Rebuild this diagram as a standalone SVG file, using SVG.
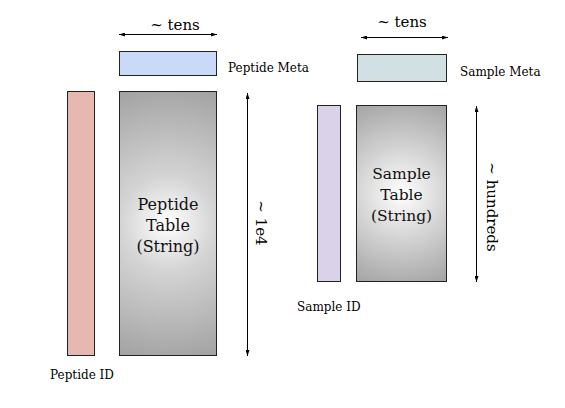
<svg xmlns="http://www.w3.org/2000/svg" width="565" height="408" viewBox="0 0 565 408">
<defs>
<radialGradient id="tblP" gradientUnits="userSpaceOnUse" cx="168" cy="223.5" r="140">
<stop offset="0" stop-color="#ffffff"/>
<stop offset="0.34" stop-color="#d4d4d4"/>
<stop offset="1" stop-color="#a2a2a2"/>
</radialGradient>
<radialGradient id="tblS" gradientUnits="userSpaceOnUse" cx="401.5" cy="193.5" r="100">
<stop offset="0" stop-color="#ffffff"/>
<stop offset="0.45" stop-color="#d4d4d4"/>
<stop offset="1" stop-color="#a2a2a2"/>
</radialGradient>
<marker id="ah" viewBox="0 0 6 4" refX="6" refY="2" markerWidth="6" markerHeight="4" markerUnits="userSpaceOnUse" orient="auto-start-reverse">
<path d="M0,0 L6,2 L0,4 Z" fill="#000"/>
</marker>
</defs>
<style>
.box{stroke:#222;stroke-width:1}
.lbl{font-family:"DejaVu Serif",serif;font-size:12px;fill:#000}
.big{font-family:"DejaVu Serif",serif;fill:#111;text-anchor:middle}
.dim{font-family:"DejaVu Serif",serif;font-size:15px;fill:#000;text-anchor:middle}
.arr{stroke:#000;stroke-width:1;fill:none;marker-start:url(#ah);marker-end:url(#ah)}
</style>
<rect width="565" height="408" fill="#fff"/>
<g id="peptide-meta">
<rect class="box" x="119.5" y="51.5" width="97" height="24" fill="#c9daf8"/>
<text class="lbl" x="228" y="72">Peptide Meta</text>
</g>
<g id="peptide-id">
<rect class="box" x="67.5" y="91.5" width="27" height="264" fill="#e6b8af"/>
<text class="lbl" x="50" y="379">Peptide ID</text>
</g>
<g id="peptide-table">
<rect class="box" x="119.5" y="91.5" width="97" height="264" fill="url(#tblP)"/>
<text class="big" font-size="16" x="168" y="210">Peptide</text>
<text class="big" font-size="16" x="168" y="231">Table</text>
<text class="big" font-size="16" x="168" y="252">(String)</text>
</g>
<g id="sample-meta">
<rect class="box" x="357.5" y="54.5" width="89" height="27" fill="#d0e0e3"/>
<text class="lbl" x="460" y="76">Sample Meta</text>
</g>
<g id="sample-id">
<rect class="box" x="317.5" y="105.5" width="23" height="176" fill="#d9d2e9"/>
<text class="lbl" x="297" y="311">Sample ID</text>
</g>
<g id="sample-table">
<rect class="box" x="356.5" y="105.5" width="90" height="176" fill="url(#tblS)"/>
<text class="big" font-size="15.5" x="401.5" y="179">Sample</text>
<text class="big" font-size="15.5" x="401.5" y="200">Table</text>
<text class="big" font-size="15.5" x="401.5" y="221">(String)</text>
</g>
<g id="connectors">
<line class="arr" x1="119" y1="34.5" x2="217" y2="34.5"/>
<text class="dim" x="175" y="30">~ tens</text>
<line class="arr" x1="247.5" y1="93" x2="247.5" y2="356"/>
<text class="dim" font-size="13" transform="translate(256,223) rotate(90)">~ 1e4</text>
<line class="arr" x1="361" y1="37.5" x2="448" y2="37.5"/>
<text class="dim" x="402" y="27">~ tens</text>
<line class="arr" x1="476.5" y1="106" x2="476.5" y2="282"/>
<text class="dim" font-size="13" transform="translate(487,207) rotate(90)">~ hundreds</text>
</g>
</svg>
